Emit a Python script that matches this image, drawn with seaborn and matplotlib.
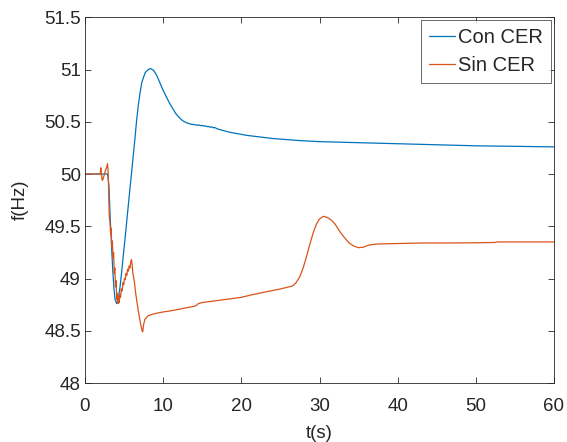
import matplotlib
matplotlib.use("Agg")
import matplotlib.pyplot as plt
import seaborn as sns
import pandas as pd

# Frequency response with the static VAR compensator (CER)
con_t = [0, 2.9, 3.05, 3.2, 3.41, 3.55, 3.71, 3.85, 4.05, 4.25, 4.45, 4.69, 4.9,
         5.12, 5.33, 5.54, 5.75, 5.97, 6.18, 6.39, 6.6, 6.82, 7.05, 7.25, 7.46,
         7.7, 7.95, 8.2, 8.4, 8.8, 9.2, 9.6, 10.0, 10.4, 10.8, 11.2, 11.6, 12.0,
         12.5, 13.0, 13.5, 14.0, 14.2, 14.4, 14.6, 14.8, 15.0, 15.2, 15.4, 15.6,
         15.8, 16.0, 16.2, 16.4, 16.6, 16.8, 17.0, 18.5, 20.7, 24.0, 27.5, 30,
         35, 40, 45, 50, 55, 60]
con_f = [50.0, 50.0, 49.9, 49.62, 49.29, 49.08, 48.9, 48.8, 48.76, 48.8, 48.9,
         49.06, 49.22, 49.38, 49.54, 49.70, 49.86, 50.02, 50.18, 50.34, 50.51,
         50.66, 50.78, 50.87, 50.92, 50.97, 50.99, 51.005, 51.01, 50.99, 50.94,
         50.87, 50.80, 50.74, 50.68, 50.63, 50.58, 50.545, 50.51, 50.49, 50.478,
         50.472, 50.471, 50.466, 50.470, 50.462, 50.466, 50.458, 50.461, 50.453,
         50.456, 50.448, 50.451, 50.443, 50.445, 50.437, 50.43, 50.40, 50.37,
         50.34, 50.32, 50.31, 50.30, 50.29, 50.28, 50.27, 50.265, 50.26]

# Frequency response without the compensator
sin_t = [0, 1.95, 2.02, 2.1, 2.2, 2.3, 2.45, 2.6, 2.75, 2.88, 2.95, 3.02, 3.1,
         3.2, 3.28, 3.35, 3.42, 3.5, 3.58, 3.66, 3.74, 3.82, 3.9, 3.98, 4.06,
         4.14, 4.22, 4.3, 4.38, 4.46, 4.55, 4.65, 4.75, 4.85, 4.95, 5.05, 5.15,
         5.25, 5.35, 5.45, 5.55, 5.65, 5.75, 5.85, 5.95, 6.05, 6.12, 6.2, 6.3,
         6.5, 6.82, 7.1, 7.3, 7.38, 7.5, 7.67, 7.9, 8.1, 8.5, 9, 10, 10.9, 12,
         13, 14, 14.3, 14.5, 15, 16, 18, 20, 21.1, 23, 25, 26.6, 27.0, 27.5,
         27.9, 28.3, 28.7, 29.2, 29.6, 30.0, 30.5, 31.0, 31.5, 32.0, 32.6, 33.2,
         33.8, 34.4, 35.0, 35.6, 36.3, 37.3, 40, 43, 46.7, 50, 52.5, 52.7, 55, 60]
sin_f = [50.0, 50.0, 50.06, 50.0, 49.94, 49.95, 49.99, 50.03, 50.06, 50.1,
         50.04, 49.85, 49.6, 49.54, 49.42, 49.48, 49.3, 49.36, 49.2, 49.25,
         49.05, 49.1, 48.92, 48.98, 48.8, 48.86, 48.76, 48.83, 48.77, 48.85,
         48.82, 48.9, 48.88, 48.96, 48.94, 49.0, 48.99, 49.05, 49.03, 49.09,
         49.07, 49.12, 49.1, 49.16, 49.18, 49.12, 49.05, 49.02, 48.98, 48.85,
         48.69, 48.57, 48.5, 48.49, 48.56, 48.61, 48.63, 48.645, 48.655, 48.665,
         48.68, 48.69, 48.705, 48.72, 48.735, 48.745, 48.76, 48.77, 48.78, 48.80,
         48.82, 48.84, 48.87, 48.9, 48.93, 48.96, 49.02, 49.1, 49.2, 49.31,
         49.44, 49.52, 49.57, 49.595, 49.585, 49.56, 49.52, 49.45, 49.39, 49.34,
         49.31, 49.295, 49.30, 49.32, 49.33, 49.335, 49.34, 49.34, 49.342,
         49.345, 49.35, 49.35, 49.35]

series_names = ["Con CER", "Sin CER"]
series_colors = ["#0072BD", "#D95319"]
x_ticks = [0, 10, 20, 30, 40, 50, 60]
y_ticks = [48, 48.5, 49, 49.5, 50, 50.5, 51, 51.5]

assert len(con_t) == len(con_f) and len(sin_t) == len(sin_f)

df = pd.concat([
    pd.DataFrame({"t": con_t, "f": con_f, "serie": series_names[0]}),
    pd.DataFrame({"t": sin_t, "f": sin_f, "serie": series_names[1]}),
], ignore_index=True)

sns.set_theme(style="ticks")
plt.rcParams["font.family"] = ["Liberation Sans", "DejaVu Sans"]
plt.rcParams["xtick.direction"] = "in"
plt.rcParams["ytick.direction"] = "in"

fig = plt.figure(figsize=(5.67, 4.42), dpi=100)
ax = fig.add_axes([85 / 567, 59 / 442, 469 / 567, 365.7 / 442])

sns.lineplot(data=df, x="t", y="f", hue="serie", hue_order=series_names,
             palette=series_colors, estimator=None, sort=False,
             linewidth=0.9, ax=ax)

ax.set_xlim(0, 60)
ax.set_ylim(48, 51.5)
ax.set_xticks(x_ticks)
ax.set_yticks(y_ticks)
ax.set_yticklabels([f"{v:g}" for v in y_ticks])
ax.set_xlabel("t(s)", fontsize=13.5, color="#262626", labelpad=7.5)
ax.set_ylabel("f(Hz)", fontsize=13.5, color="#262626", labelpad=11)
ax.tick_params(axis="both", which="both", labelsize=13.5, colors="#262626",
               length=4.5, width=0.6, top=True, right=True)
ax.tick_params(axis="x", pad=10.5)
ax.tick_params(axis="y", pad=3)
for sp in ax.spines.values():
    sp.set_visible(True)
    sp.set_color("#262626")
    sp.set_linewidth(0.6)

leg = ax.legend(loc="upper right", fontsize=14.5, frameon=True, fancybox=False,
                edgecolor="#262626", handlelength=1.3, handletextpad=0.15,
                borderaxespad=0.15, borderpad=0.4, labelspacing=0.45)
leg.get_frame().set_linewidth(0.6)
for line in leg.get_lines():
    line.set_linewidth(0.9)

fig.savefig("out.png", dpi=100)
